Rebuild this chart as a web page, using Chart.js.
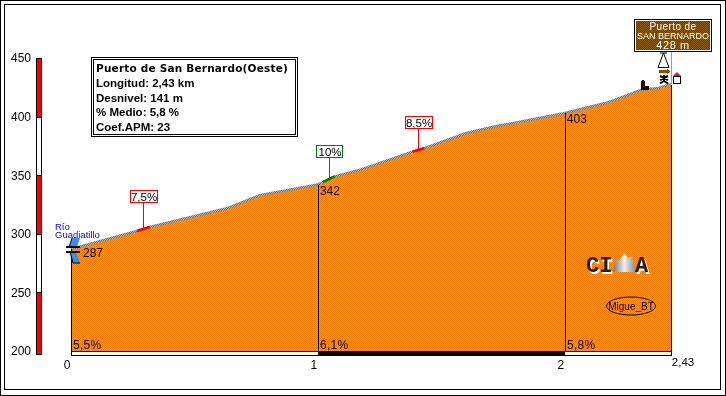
<!DOCTYPE html>
<html><head><meta charset="utf-8">
<style>html,body{margin:0;padding:0;background:#fff}#w{position:relative;width:726px;height:396px}canvas{display:block}</style>
<script src="https://cdn.jsdelivr.net/npm/chart.js@4"></script></head>
<body><div id="w"><canvas id="c" width="726" height="396"></canvas></div>
<script>
const kmValues  = [0,0.267,0.319,0.635,0.764,1,1.02,1.068,1.169,1.383,1.431,1.601,1.723,1.803,2,2.18,2.31,2.38,2.43];
const elevation = [287,302.4,305.8,322,333,342,344,349,354.5,370,373,386,392,395,403,412.5,423,424.5,428];
const yTicks = [200,250,300,350,400,450];
const xTicks = [0,1,2,2.43];
const steepKm = [[0.267,0.319],[1.02,1.068],[1.383,1.431]];
const steepElev = [[302.4,305.8],[344,349],[370,373]];
const steepLabels = ['7,5%','10%','8,5%'];
const steepAnchorKm = [0.29,1.043,1.407];
const steepRise = [39,34,34];
const steepColors = ['#ff0000','#008000','#ff0000'];
const kmMarks = [0,1,2];
const kmMarkElev = [287,342,403];
const kmMarkLabels = ['287','342','403'];
const kmGrades = ['5,5%','6,1%','5,8%'];
const kmEnds = [1,2,2.43];
const kmBarColors = ['#ffffff','#000000','#ffffff'];
const scaleBands = [[400,450],[350,400],[300,350],[250,300],[200,250]];
const scaleBandColors = ['#ff0000','#ffffff','#ff0000','#ffffff','#ff0000'];
const infoLines = ['Puerto de San Bernardo(Oeste)','Longitud: 2,43 km','Desnivel: 141 m','% Medio: 5,8 %','Coef.APM: 23'];
const signLines = ['Puerto de','SAN BERNARDO','428 m'];
const riverLines = ['Río','Guadiatillo'];

function dither(a,b){const p=document.createElement('canvas');p.width=p.height=2;const g=p.getContext('2d');
  g.fillStyle=a;g.fillRect(0,0,2,2);g.fillStyle=b;g.fillRect(0,0,1,1);g.fillRect(1,1,1,1);
  return g.createPattern(p,'repeat');}
const ctx0=document.getElementById('c').getContext('2d');
const orange=dither('#ff9500','#f07c00');
const grey=dither('#6e6e6e','#b4b4b4');
const brown=dither('#6b3c00','#8a5a10');

const SANS='"Liberation Sans"';
function txt(g,s,x,y,font,color,align,sp){g.font=font;g.fillStyle=color||'#000';g.textAlign=align||'left';g.textBaseline='alphabetic';
  g.letterSpacing=sp||'0px';g.fillText(s,x,y);g.letterSpacing='0px';}

const profile={id:'profile',afterDatasetsDraw(ch){
  const g=ch.ctx,X=ch.scales.x,Y=ch.scales.y,px=v=>X.getPixelForValue(v),py=v=>Y.getPixelForValue(v);
  const base=Math.round(py(200)),L=Math.round(px(0)),R=Math.round(px(2.43));
  g.save();
  // frames
  g.strokeStyle='#000';g.lineWidth=1;
  g.strokeRect(.5,.5,725,395);g.strokeRect(4.5,4.5,716,385);
  // altitude scale bar
  scaleBands.forEach((b,i)=>{const t=Math.round(py(b[1])),h=Math.round(py(b[0]))-t+(i==4?4:0);
    g.fillStyle=scaleBandColors[i];g.fillRect(36,t,6,h);});
  g.strokeStyle='#000';g.strokeRect(36.5,Math.round(py(450))+.5,5,base-Math.round(py(450))+3);
  scaleBands.forEach(b=>{g.beginPath();g.moveTo(37,Math.round(py(b[1]))+.5);g.lineTo(41,Math.round(py(b[1]))+.5);g.stroke();});
  // km strip and grades
  kmMarks.forEach((k,i)=>{const a=Math.round(px(k)),b=Math.round(px(kmEnds[i]));
    g.fillStyle=kmBarColors[i];g.fillRect(a,base,b-a,4);
    txt(g,kmGrades[i],a+2,base-2.5,'12px '+SANS,'#000','left','0.3px');});
  g.strokeStyle='#000';g.strokeRect(L+.5,base+.5,R-L,4);
  // km verticals
  g.beginPath();
  kmMarks.forEach((k,i)=>{const x=Math.round(px(k))+.5;g.moveTo(x,base);g.lineTo(x,py(kmMarkElev[i]));});
  const xr=R+.5;g.moveTo(xr,base);g.lineTo(xr,py(428)+1);g.stroke();
  kmMarks.forEach((k,i)=>{ if(i==0) txt(g,kmMarkLabels[i],px(k)+12,py(kmMarkElev[i])+8,'12px '+SANS);
    else txt(g,kmMarkLabels[i],px(k)+2,py(kmMarkElev[i])+10,'12px '+SANS);});
  txt(g,'2,43',R+12,366,'11.5px '+SANS,'#000','center');
  // gradient flags
  steepLabels.forEach((s,i)=>{const x=Math.round(px(steepAnchorKm[i]))+.5;
    const yE=py((steepElev[i][0]+steepElev[i][1])/2);const top=Math.round(yE-steepRise[i])+.5;const c=steepColors[i];
    g.strokeStyle=c;g.lineWidth=1;g.beginPath();g.moveTo(x,top+12);g.lineTo(x,yE);g.stroke();
    const w=i==1?26:27;
    g.fillStyle='#fff';g.fillRect(x-13,top,w,12);g.strokeRect(x-13,top,w,12);
    txt(g,s,x+.5,top+10,'11.5px '+SANS,'#000','center');});
  // sign post
  const sy=py(428);
  g.strokeStyle='#9a9a9a';g.lineWidth=1;g.beginPath();g.moveTo(xr,52);g.lineTo(xr,sy);g.stroke();
  g.fillStyle=brown;g.fillRect(634,19,78,33);
  g.strokeStyle='#000';g.strokeRect(634.5,19.5,77,32);
  g.strokeStyle='#fff';g.strokeRect(635.5,20.5,75,30);
  txt(g,signLines[0],673,29.5,'10px '+SANS,'#fff','center','0.4px');
  txt(g,signLines[1],673,39,'9px '+SANS,'#fff','center','0px');
  txt(g,signLines[2],673,49,'11px '+SANS,'#fff','center','0.6px');
  // tent
  g.strokeStyle='#000';g.lineWidth=1;g.beginPath();
  g.moveTo(660,53);g.lineTo(667,53);g.moveTo(663.5,53);g.lineTo(658,67.5);g.lineTo(669,67.5);g.lineTo(663.5,53);g.stroke();
  // arrow
  g.fillStyle='#8a4b00';g.fillRect(659,70,9,3);
  g.beginPath();g.moveTo(667,68.5);g.lineTo(670.5,71.5);g.lineTo(667,74.5);g.fill();
  // figure
  g.strokeStyle='#000';g.lineWidth=2;g.beginPath();
  g.moveTo(664,75);g.lineTo(664,82);g.moveTo(660,76);g.lineTo(668,80);g.moveTo(668,76);g.lineTo(660,80);
  g.moveTo(664,81);g.lineTo(660,83.5);g.moveTo(664,81);g.lineTo(668,83.5);g.stroke();
  // house
  g.fillStyle='#fff';g.fillRect(673,76,8,7);g.strokeStyle='#000';g.lineWidth=1;g.strokeRect(673.5,76.5,7,7);
  g.fillStyle='#e8102a';g.beginPath();g.moveTo(673,76);g.lineTo(677,72);g.lineTo(681,76);g.fill();
  // dark shop icon
  g.fillStyle='#1c0808';g.fillRect(641,81,4,9);g.fillRect(645,86,4,4);g.fillRect(642,80,2,2);
  // river
  g.fillStyle='#3a8ee8';g.strokeStyle='#000';g.lineWidth=1;
  g.beginPath();g.moveTo(72,238);g.lineTo(80,238);g.lineTo(77,247);g.lineTo(69,247);g.fill();
  g.beginPath();g.moveTo(70,252);g.lineTo(76,252);g.lineTo(80,263);g.lineTo(73,263);g.fill();
  g.beginPath();g.moveTo(72,238);g.lineTo(69,247);g.moveTo(70,252);g.lineTo(73,263);g.lineTo(80,263);g.stroke();
  g.fillStyle='#000';g.fillRect(66,246,14,2);g.fillRect(66,251,14,2);
  txt(g,riverLines[0],55,230,'9.5px '+SANS,'#0000ff');
  txt(g,riverLines[1],55,237.5,'9.5px '+SANS,'#0000ff');
  // info box
  g.fillStyle='#fff';g.fillRect(91,57,207,80);
  g.strokeStyle='#000';g.lineWidth=1;g.strokeRect(91.5,57.5,206,79);g.strokeRect(93.5,59.5,202,75);
  txt(g,infoLines[0],96,72,'bold 10.5px "DejaVu Sans"','#000','left','0.2px');
  infoLines.slice(1).forEach((s,i)=>txt(g,s,96,87+i*14.7,'bold 11.5px '+SANS));
  // logo
  txt(g,'CI',587.5,273.5,'bold 22px "Liberation Mono"','#fff');
  txt(g,'CI',586,272,'bold 22px "Liberation Mono"','#222');
  const m=g.createLinearGradient(613,0,636,0);m.addColorStop(0,'#777');m.addColorStop(.5,'#eee');m.addColorStop(1,'#888');
  g.fillStyle=m;g.beginPath();g.moveTo(613,272);g.lineTo(616,258);g.lineTo(619,261);g.lineTo(624,253);g.lineTo(628,258);g.lineTo(632,256);g.lineTo(636,272);g.fill();
  txt(g,'A',636.5,273.5,'bold 22px "Liberation Mono"','#fff');
  txt(g,'A',635,272,'bold 22px "Liberation Mono"','#222');
  // author ellipse
  g.strokeStyle='#000';g.lineWidth=1;g.beginPath();g.ellipse(631,306,24.5,9,0,0,Math.PI*2);g.stroke();
  txt(g,'Migue_BT',631,310,'10px '+SANS,'#000','center');
  g.restore();
}};

const pts=kmValues.map((k,i)=>({x:k,y:elevation[i]}));
const flags=steepKm.map((r,i)=>({type:'line',data:r.map((k,j)=>({x:k,y:steepElev[i][j]})),borderColor:steepColors[i],borderWidth:2.5,pointRadius:0,fill:false,tension:0}));
new Chart(ctx0,{type:'line',
  data:{datasets:[...flags,{data:pts,borderColor:grey,borderWidth:2.5,backgroundColor:orange,fill:'origin',pointRadius:0,tension:0}]},
  plugins:[profile],
  options:{responsive:false,animation:false,
    layout:{padding:{top:58,right:55,left:0,bottom:0}},
    plugins:{legend:{display:false},tooltip:{enabled:false}},
    scales:{
      x:{type:'linear',min:0,max:2.43,grid:{display:false,drawTicks:false},border:{display:false},
        afterBuildTicks:s=>{s.ticks=xTicks.map(v=>({value:v}));},
        afterFit:s=>{s.height=45;s.paddingBottom=0;s.paddingTop=0;},
        ticks:{autoSkip:false,maxRotation:0,padding:7,labelOffset:-4,color:'#000',font:{family:'Liberation Sans',size:12},
          callback:v=>v===2.43?'':String(v)}},
      y:{min:200,max:450,grid:{display:false,drawTicks:false},border:{display:false},
        afterBuildTicks:s=>{s.ticks=yTicks.map(v=>({value:v}));},
        afterFit:s=>{s.width=71;s.paddingBottom=0;s.paddingTop=0;},
        ticks:{padding:40,labelOffset:1,color:'#000',font:{family:'Liberation Sans',size:12}}}
    }}});
</script></body></html>
